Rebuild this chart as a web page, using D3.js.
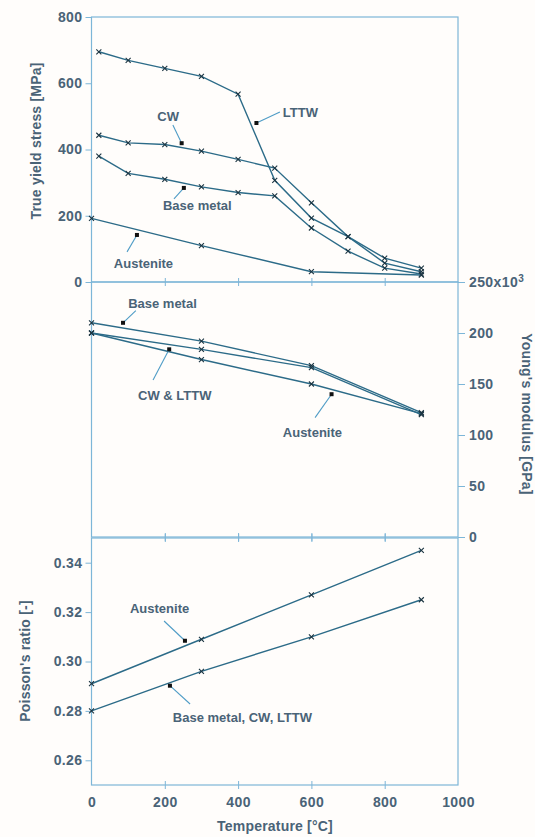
<!DOCTYPE html>
<html>
<head>
<meta charset="utf-8">
<script src="https://cdn.jsdelivr.net/npm/d3@7"></script>
<style>
  body { margin: 0; background: #fffdfb; }
  svg { display: block; font-family: "Liberation Sans", Arial, sans-serif; }
  .tick text { fill: #4a6377; font-size: 14px; font-weight: bold; letter-spacing: 0.4px; }
  .tick line { stroke: #7db6d8; }
  .domain { display: none; }
</style>
</head>
<body>
<svg id="chart" width="535" height="837"></svg>
<script>
// temperatures (°C)
const stressT = [20, 100, 200, 300, 400, 500, 600, 700, 800, 900];
const austT = [0, 300, 600, 900];
const modT = [0, 300, 600, 900];
const poisT = [0, 300, 600, 900];

// true yield stress [MPa]
const lttwStress = [695, 669, 645, 621, 567, 307, 193, 137, 57, 31];
const cwStress = [443, 420, 415, 395, 370, 344, 239, 137, 72, 42];
const baseStress = [380, 328, 310, 287, 270, 260, 163, 93, 42, 24];
const austStress = [192, 110, 31, 21];

// Young's modulus [GPa]
const baseE = [210, 192, 168, 122];
const cwE = [200, 184, 166, 120];
const austE = [200, 174, 150, 121];

// Poisson's ratio
const austNu = [0.291, 0.309, 0.327, 0.345];
const baseNu = [0.280, 0.296, 0.310, 0.325];

const xTicks = [0, 200, 400, 600, 800, 1000];
const stressTicks = [0, 200, 400, 600, 800];
const modTicks = [0, 50, 100, 150, 200, 250];
const poisTicks = [0.26, 0.28, 0.30, 0.32, 0.34];

// annotation labels: [dot], [leader end], [text pos] in data units
const stressNotes = [
  { text: "LTTW", dot: [450, 480], end: [514, 513], pos: [522, 498], anchor: "start" },
  { text: "CW", dot: [246, 419], end: [222, 474], pos: [209, 486], anchor: "middle" },
  { text: "Base metal", dot: [252, 284], end: [225, 251], pos: [195, 217], anchor: "start" },
  { text: "Austenite", dot: [124, 142], end: [97, 91], pos: [61, 42], anchor: "start" }
];
const modNotes = [
  { text: "Base metal", dot: [86, 210], end: [121, 222], pos: [100, 225], anchor: "start" },
  { text: "CW & LTTW", dot: [212, 184], end: [168, 154], pos: [127, 134], anchor: "start" },
  { text: "Austenite", dot: [655, 140], end: [610, 117], pos: [522, 98], anchor: "start" }
];
const poisNotes = [
  { text: "Austenite", dot: [255, 0.3084], end: [198, 0.3164], pos: [105, 0.3196], anchor: "start" },
  { text: "Base metal, CW, LTTW", dot: [214, 0.2902], end: [269, 0.2828], pos: [222, 0.2755], anchor: "start" }
];

const axisColor = "#7db6d8",
    lineColor = "#2c6b88",
    textColor = "#4a6377";

const svg = d3.select("#chart");

const x = d3.scaleLinear().domain([0, 1000]).range([91.5, 458]);
const yS = d3.scaleLinear().domain([0, 800]).range([282, 17]);
const yE = d3.scaleLinear().domain([0, 250]).range([537, 282]);
const yP = d3.scaleLinear().domain([0.25, 0.35]).range([785, 538]);

// frames
const frame = function (y) {
    svg.append("rect")
        .attr("x", x(0)).attr("y", y.range()[1])
        .attr("width", x(1000) - x(0))
        .attr("height", y.range()[0] - y.range()[1])
        .attr("fill", "none")
        .attr("stroke", axisColor)
        .attr("stroke-width", 1.2);
}
frame(yS);
frame(yE);
frame(yP);

// crossing x ticks on panel edges
[282, 537, 538, 785].forEach(yy => {
    svg.append("g").attr("transform", `translate(0,${yy})`)
        .call(d3.axisBottom(x).tickValues([200, 400, 600, 800]).tickSize(4).tickFormat(""));
    svg.append("g").attr("transform", `translate(0,${yy})`)
        .call(d3.axisTop(x).tickValues([200, 400, 600, 800]).tickSize(4).tickFormat(""));
});

// bottom x labels
svg.append("g").attr("transform", "translate(0,785)")
    .call(d3.axisBottom(x).tickValues(xTicks).tickSize(0).tickPadding(12)
        .tickFormat(d3.format("d")));

svg.append("g").attr("transform", `translate(${x(0)},0)`)
    .call(d3.axisLeft(yS).tickValues(stressTicks).tickSize(6).tickPadding(3));

svg.append("g").attr("transform", `translate(${x(0)},0)`)
    .call(d3.axisLeft(yP).tickValues(poisTicks).tickSize(6).tickPadding(3)
        .tickFormat(d3.format(".2f")));

const rightAxis = svg.append("g").attr("transform", `translate(${x(1000)},0)`)
    .call(d3.axisRight(yE).tickValues(modTicks).tickSize(7).tickPadding(4));
rightAxis.selectAll(".tick text")
    .filter(d => d === 250)
    .text("250x10")
    .append("tspan")
    .attr("dy", "-0.45em")
    .attr("font-size", "10px")
    .text("3");

// axis titles
const title = function (txt, tx, ty, rot) {
    svg.append("text")
        .attr("transform", `translate(${tx},${ty}) rotate(${rot})`)
        .attr("text-anchor", "middle")
        .attr("dominant-baseline", "middle")
        .attr("fill", textColor)
        .attr("font-size", 14)
        .attr("font-weight", "bold")
        .attr("letter-spacing", 0.2)
        .text(txt);
}
title("True yield stress [MPa]", 37, 141, -90);
title("Poisson's ratio [-]", 26, 661, -90);
title("Young's modulus [GPa]", 526, 414, 90);
title("Temperature [°C]", 275, 827, 0);

// series
const drawSeries = function (ts, vs, y) {
    const pts = ts.map((t, i) => [x(t), y(vs[i])]);
    svg.append("path")
        .attr("d", d3.line()(pts))
        .attr("fill", "none")
        .attr("stroke", lineColor)
        .attr("stroke-width", 1.4);
    svg.append("g").selectAll("path").data(pts).join("path")
        .attr("d", d => `M${d[0] - 2.5},${d[1] - 2.5}L${d[0] + 2.5},${d[1] + 2.5}M${d[0] - 2.5},${d[1] + 2.5}L${d[0] + 2.5},${d[1] - 2.5}`)
        .attr("stroke", "#1c3542")
        .attr("stroke-width", 1.1);
}
drawSeries(stressT, lttwStress, yS);
drawSeries(stressT, cwStress, yS);
drawSeries(stressT, baseStress, yS);
drawSeries(austT, austStress, yS);
drawSeries(modT, baseE, yE);
drawSeries(modT, cwE, yE);
drawSeries(modT, austE, yE);
drawSeries(poisT, austNu, yP);
drawSeries(poisT, baseNu, yP);

// annotations
const drawNotes = function (notes, y) {
    notes.forEach(n => {
        svg.append("line")
            .attr("x1", x(n.dot[0])).attr("y1", y(n.dot[1]))
            .attr("x2", x(n.end[0])).attr("y2", y(n.end[1]))
            .attr("stroke", "#4f9cc6")
            .attr("stroke-width", 1.1);
        svg.append("rect")
            .attr("x", x(n.dot[0]) - 2).attr("y", y(n.dot[1]) - 2)
            .attr("width", 4).attr("height", 4)
            .attr("fill", "#111");
        svg.append("text")
            .attr("x", x(n.pos[0])).attr("y", y(n.pos[1]))
            .attr("text-anchor", n.anchor)
            .attr("fill", textColor)
            .attr("font-size", 13)
            .attr("font-weight", "bold")
            .text(n.text);
    });
}
drawNotes(stressNotes, yS);
drawNotes(modNotes, yE);
drawNotes(poisNotes, yP);
</script>
</body>
</html>
